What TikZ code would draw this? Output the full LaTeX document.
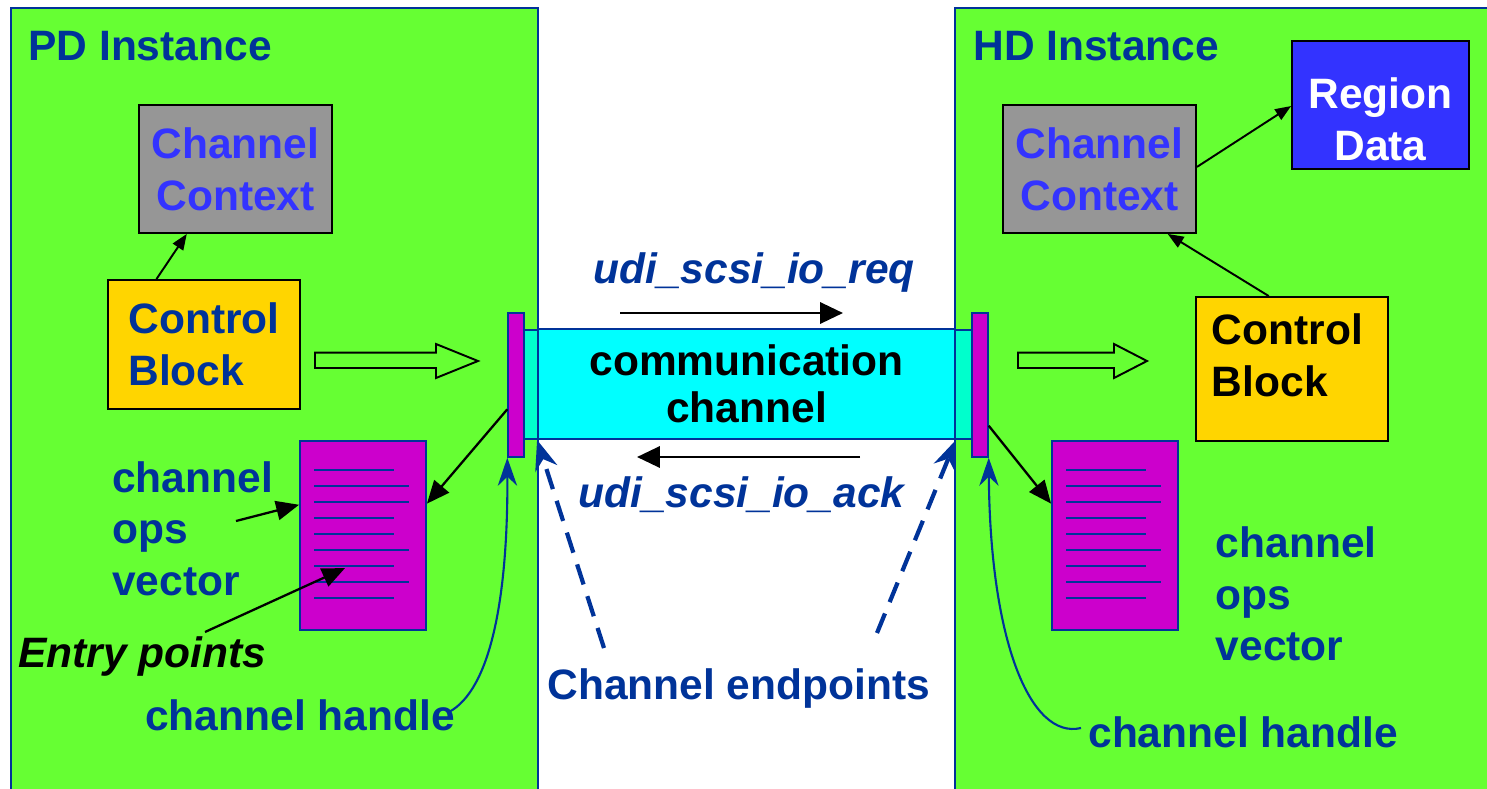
\documentclass[tikz,border=0pt]{standalone}
\usepackage{fontspec}
\setmainfont{Liberation Sans}
\usetikzlibrary{arrows.meta,calc}

\definecolor{panelgreen}{HTML}{66FF33}
\definecolor{darkblue}{HTML}{003399}
\definecolor{ctxgray}{HTML}{969696}
\definecolor{ctxblue}{HTML}{3333FF}
\definecolor{cbyellow}{HTML}{FFD500}
\definecolor{chancyan}{HTML}{00FFFF}
\definecolor{endteal}{HTML}{00FFCC}
\definecolor{opsmagenta}{HTML}{CC00CC}

\tikzset{
  bigtxt/.style={font=\fontsize{24.2}{29.5}\selectfont\bfseries, inner sep=0pt},
  bluetxt/.style={bigtxt, text=darkblue},
  panel/.style={fill=panelgreen, draw=darkblue, line width=0.8pt},
  ctxbox/.style={draw=black, fill=ctxgray, line width=1.1pt, minimum width=3.86cm,
    minimum height=2.56cm, bigtxt, text=ctxblue, align=center},
  cbbox/.style={draw=black, fill=cbyellow, line width=1.1pt, minimum width=3.84cm, bigtxt, align=left},
  opsdoc/.style={draw=darkblue, fill=opsmagenta, line width=1.1pt, minimum width=2.52cm, minimum height=3.78cm},
  docline/.style={darkblue, line width=1.5pt},
  chanbox/.style={draw=darkblue, fill=chancyan, line width=1.1pt, minimum width=8.34cm,
    minimum height=2.2cm, font=\fontsize{24.2}{27}\selectfont\bfseries, align=center},
  endbox/.style={draw=darkblue, fill=endteal, line width=0.8pt, minimum height=2.18cm, inner sep=0pt},
  barbox/.style={draw=darkblue, fill=opsmagenta, line width=0.8pt, minimum width=0.32cm,
    minimum height=2.88cm, inner sep=0pt},
  hollow/.style={draw=black, line width=1.1pt},
  thinarrow/.style={black, line width=1.1pt, -{Triangle[length=9pt,width=7pt]}},
  opsarrow/.style={black, line width=1.3pt, -{Triangle[length=13pt,width=11pt]}},
  msgarrow/.style={black, line width=1.6pt, -{Triangle[length=13pt,width=12pt]}},
  handlearrow/.style={darkblue, line width=1.2pt, -{Stealth[length=16pt,width=11pt]}},
  endarrow/.style={darkblue, line width=2.4pt, dash pattern=on 12pt off 7pt,
    -{Stealth[length=17pt,width=13pt]}}
}

\begin{document}
\begin{tikzpicture}[x=0.02cm, y=-0.02cm]
    \useasboundingbox (0,0) rectangle (1487,788);

    % the two instances
    \draw[panel] (11,8) rectangle (538,800);
    \draw[panel] (955,8) rectangle (1500,800);
    \node[bluetxt, anchor=base west] (pdname) at (28,60) {PD Instance};
    \node[bluetxt, anchor=base west] (hdname) at (973,60) {HD Instance};

    % PD side
    \node[ctxbox] (ctxL) at (235.5,169) {Channel\\Context};
    \node[cbbox, minimum height=2.58cm, text=darkblue] (cbL) at (204,344.5) {Control\\Block};
    \node[opsdoc] (opsL) at (363,535.5) {};
    \node[bluetxt, anchor=north west, align=left] (opsLtxt) at (112,461) {channel\\ops\\vector};
    \node[bigtxt, anchor=base west, font=\fontsize{24.2}{29.5}\selectfont\bfseries\itshape] (entry) at (18,667) {Entry points};
    \node[bluetxt, anchor=base west] (handleLtxt) at (145,730) {channel handle};

    % HD side
    \node[ctxbox] (ctxR) at (1099.5,169) {Channel\\Context};
    \node[draw=black, fill=ctxblue, line width=1.1pt, minimum width=3.54cm, minimum height=2.56cm] (region) at (1380.5,105) {};
    \node[bigtxt, text=white, align=center] (regiontxt) at (1380.5,119) {Region\\Data};
    \node[cbbox, minimum height=2.88cm] (cbR) at (1292,369) {};
    \node[bigtxt, align=left] (cbRtxt) at (1287.5,355) {Control\\Block};
    \node[opsdoc] (opsR) at (1115,535.5) {};
    \node[bluetxt, anchor=north west, align=left] (opsRtxt) at (1215.5,526) {channel\\ops\\vector};
    \node[bluetxt, anchor=base west] (handleRtxt) at (1088,747) {channel handle};

    \foreach \d in {opsL,opsR}
        \foreach \i/\len in {0/80,1/95,2/95,3/80,4/80,5/95,6/80,7/95,8/80}
            \draw[docline] ($(\d.north west)+(15,30+16*\i)$) -- ++(\len,0);

    % the channel
    \node[chanbox] (chan) at (746.5,384) {communication\\channel};
    \node[endbox, minimum width=0.28cm] (tealL) at (531,384.5) {};
    \node[endbox, minimum width=0.34cm] (tealR) at (963.5,384.5) {};
    \node[barbox] (barL) at (516,385) {};
    \node[barbox] (barR) at (980,385) {};

    \node[bluetxt, anchor=base west, font=\fontsize{24.2}{29.5}\selectfont\bfseries\itshape] (reqtxt) at (593,283) {udi\_scsi\_io\_req};
    \node[bluetxt, anchor=base west, font=\fontsize{24.2}{29.5}\selectfont\bfseries\itshape] (acktxt) at (578,507) {udi\_scsi\_io\_ack};
    \node[bluetxt, anchor=base west] (endtxt) at (547,699) {Channel endpoints};

    \coordinate (reqa) at (620,313);
    \coordinate (reqb) at (843,313);
    \coordinate (acka) at (860,457);
    \coordinate (ackb) at (637,457);
    \draw[msgarrow] (reqa) -- (reqb);
    \draw[msgarrow] (acka) -- (ackb);

    % block arrows
    \draw[hollow] (315,352.7) -- (436,352.7) -- (436,344) -- (478,361) -- (436,378) -- (436,368) -- (315,368) -- cycle;
    \draw[hollow] (1018,352.7) -- (1114,352.7) -- (1114,344) -- (1147,361) -- (1114,378) -- (1114,368) -- (1018,368) -- cycle;

    % pointers
    \draw[thinarrow] ($(cbL.north west)!0.255!(cbL.north east)$) -- ($(ctxL.south west)!0.25!(ctxL.south east)$);
    \draw[thinarrow] ($(cbR.north west)!0.38!(cbR.north east)$) -- ($(ctxR.south west)!0.85!(ctxR.south east)$);
    \draw[thinarrow] ($(ctxR.north east)!0.484!(ctxR.south east)$) -- ($(region.north west)!0.508!(region.south west)$);
    \draw[opsarrow] ($(barL.north west)!0.667!(barL.south west)$) -- ($(opsL.north east)!0.333!(opsL.south east)$);
    \draw[opsarrow] ($(barR.north east)!0.78!(barR.south east)$) -- ($(opsR.north west)!0.333!(opsR.south west)$);

    \coordinate (opsLtail) at (236,521);
    \coordinate (entrytail) at (205,632);
    \draw[opsarrow] (opsLtail) -- ($(opsL.north west)!0.339!(opsL.south west)$);
    \draw[opsarrow] (entrytail) -- ($(opsL.north west)+(46,128)$);

    % handles and endpoints
    \coordinate (handleLtail) at (449,712);
    \coordinate (handleRtail) at (1081,728);
    \draw[handlearrow] (handleLtail) .. controls (490,690) and (508,600) .. (barL.south west);
    \draw[handlearrow] (handleRtail) .. controls (1030,740) and (990,640) .. (barR.south east);

    \coordinate (endLtail) at (604,648);
    \coordinate (endRtail) at (877,633);
    \draw[endarrow] (endLtail) -- (chan.south west);
    \draw[endarrow] (endRtail) -- (chan.south east);
\end{tikzpicture}
\end{document}
